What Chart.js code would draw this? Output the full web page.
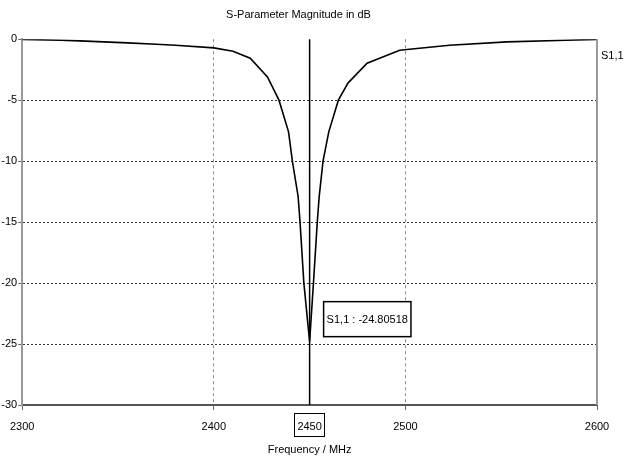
<!DOCTYPE html>
<html>
<head>
<meta charset="utf-8">
<script src="https://cdn.jsdelivr.net/npm/chart.js@4.4.1/dist/chart.umd.min.js"></script>
<style>
  html, body { margin: 0; padding: 0; background: #fff; }
  #wrap { width: 624px; height: 463px; position: relative; }
</style>
</head>
<body>
<div id="wrap"><canvas id="sparam"></canvas></div>
<script>
// data (frequency in MHz, S1,1 in dB)
const freqs = [2300, 2320, 2330, 2355, 2370, 2380, 2400, 2410, 2419, 2428, 2434, 2439, 2441, 2444, 2445, 2447,
               2450, 2452, 2454, 2455, 2457, 2460, 2465, 2470, 2480, 2497, 2523, 2553, 2584, 2600];
const s11 = [-0.02, -0.08, -0.14, -0.3, -0.41, -0.49, -0.71, -0.98, -1.56, -3.1, -5, -7.6, -10, -12.9, -15, -20,
             -24.81, -20, -15, -12.9, -10, -7.6, -5, -3.6, -1.97, -0.9, -0.49, -0.22, -0.08, -0.02];
const xTicks = [2300, 2400, 2450, 2500, 2600];
const yTicks = [0, -5, -10, -15, -20, -25, -30];
const markerFreq = 2450;
const markerValue = -24.80518;
const seriesName = "S1,1";

document.addEventListener("DOMContentLoaded", () => {
  const canvas = document.getElementById("sparam");
  if (!canvas || typeof Chart === "undefined") return;

  // no narrow tahoma here, liberation sans at 11px is the closest fit
  const FONT = "'Liberation Sans', Arial, sans-serif";
  const font = { family: FONT, size: 11, weight: "normal" };
  const FONT_STR = "11px " + FONT;

  // marker line, marker box, boxed tick, right frame and series label
  const extras = {
    id: "extras",
    afterDraw(chart) {
      const { ctx, chartArea: a, scales: { x, y } } = chart;
      ctx.save();

      // right frame
      ctx.strokeStyle = "#999";
      ctx.lineWidth = 2;
      ctx.beginPath();
      ctx.moveTo(a.right, a.top);
      ctx.lineTo(a.right, a.bottom);
      ctx.stroke();

      // marker line
      const mx = x.getPixelForValue(markerFreq);
      ctx.strokeStyle = "#000";
      ctx.lineWidth = 1.5;
      ctx.beginPath();
      ctx.moveTo(mx, a.top);
      ctx.lineTo(mx, a.bottom);
      ctx.stroke();

      ctx.font = FONT_STR;
      ctx.fillStyle = "#000";
      ctx.textBaseline = "middle";

      // marker value box
      const label = seriesName + " : " + markerValue;
      const my = y.getPixelForValue(markerValue);
      const w = ctx.measureText(label).width + 6;
      const bx = mx + 14, by = my - 40, bh = 35;
      ctx.fillStyle = "#fff";
      ctx.fillRect(bx, by, w, bh);
      ctx.strokeRect(bx, by, w, bh);
      ctx.fillStyle = "#000";
      ctx.textAlign = "center";
      ctx.fillText(label, bx + w / 2, by + bh / 2 + 1);

      // box round the marker tick label
      const tw = ctx.measureText(String(markerFreq)).width + 6;
      ctx.lineWidth = 1;
      ctx.strokeStyle = "#000";
      ctx.strokeRect(Math.round(mx - tw / 2) + 0.5, a.bottom + 8.5, Math.round(tw), 23);

      // series name on the right
      ctx.textAlign = "left";
      ctx.fillText(seriesName, a.right + 4, a.top + 17);
      ctx.restore();
    }
  };

  new Chart(canvas.getContext("2d"), {
    type: "line",
    data: {
      datasets: [{
        label: seriesName,
        data: freqs.map((f, i) => ({ x: f, y: s11[i] })),
        borderColor: "#000",
        borderWidth: 1.6,
        pointRadius: 0,
        tension: 0,
        fill: false
      }]
    },
    options: {
      responsive: true,
      maintainAspectRatio: false,
      animation: false,
      layout: { padding: { left: 0, right: 27, top: 0, bottom: 0 } },
      plugins: {
        legend: { display: false },
        tooltip: { enabled: false },
        title: {
          display: true,
          text: "S-Parameter Magnitude in dB",
          color: "#000",
          font,
          padding: { top: 8, bottom: 18 }
        }
      },
      scales: {
        x: {
          type: "linear",
          min: 2300,
          max: 2600,
          afterBuildTicks: s => { s.ticks = xTicks.map(v => ({ value: v })); },
          afterFit: s => { s.height = 58; },
          grid: {
            color: c => (c.tick && (c.tick.value === 2400 || c.tick.value === 2500)) ? "#8a8a8a" : "transparent",
            tickColor: c => (c.tick && c.tick.value === markerFreq) ? "transparent" : "#666",
            tickLength: 5,
            lineWidth: 1
          },
          border: { color: "#555", width: 2, dash: [3, 3] },
          ticks: {
            color: "#000",
            font,
            padding: 10,
            maxRotation: 0,
            autoSkip: false,
            callback: v => String(v)
          },
          title: {
            display: true,
            text: "Frequency / MHz",
            color: "#000",
            font,
            padding: { top: 0, bottom: 6 }
          }
        },
        y: {
          min: -30,
          max: 0,
          afterBuildTicks: s => { s.ticks = yTicks.map(v => ({ value: v })); },
          afterFit: s => { s.width = 21; },
          grid: {
            color: c => (c.tick && c.tick.value !== 0 && c.tick.value !== -30) ? "#333" : "transparent",
            tickColor: "#666",
            tickLength: 4,
            lineWidth: 1
          },
          border: { color: "#999", width: 2, dash: [2, 2] },
          ticks: {
            color: "#000",
            font,
            padding: 1,
            callback: v => String(v)
          }
        }
      }
    },
    plugins: [extras]
  });
});
</script>
</body>
</html>
